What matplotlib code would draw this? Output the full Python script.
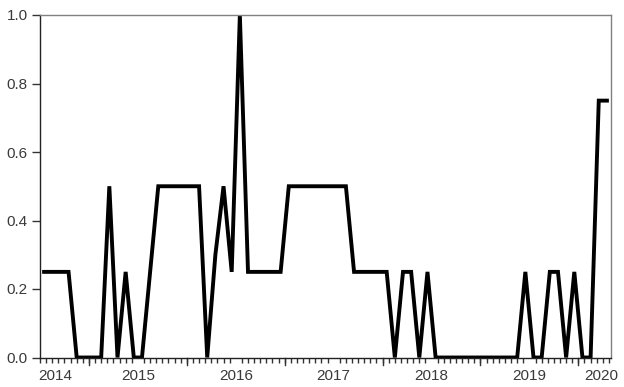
import numpy as np
import matplotlib
matplotlib.use('Agg')
import matplotlib.pyplot as plt
from matplotlib.ticker import FixedLocator

# monthly series, one value per observation
values = [0.25, 0.25, 0.25, 0.25, 0, 0, 0, 0,
          0.5, 0, 0.25, 0, 0, 0.25,
          0.5, 0.5, 0.5, 0.5, 0.5, 0.5,
          0, 0.3, 0.5, 0.25, 1.0,
          0.25, 0.25, 0.25, 0.25, 0.25,
          0.5, 0.5, 0.5, 0.5, 0.5, 0.5, 0.5, 0.5,
          0.25, 0.25, 0.25, 0.25, 0.25,
          0, 0.25, 0.25, 0, 0.25,
          0, 0, 0, 0, 0, 0, 0, 0, 0, 0, 0,
          0.25, 0, 0, 0.25, 0.25, 0, 0.25, 0, 0, 0.75, 0.75]
year_labels = ['2014', '2015', '2016', '2017', '2018', '2019', '2020']
year_label_pos = [1.4, 11.5, 23.5, 35.5, 47.5, 59.5, 68.3]
year_breaks = [5.5, 17.5, 29.5, 41.5, 53.5, 65.5]
y_ticks = [0.0, 0.2, 0.4, 0.6, 0.8, 1.0]

plt.rcParams['font.family'] = ['Liberation Sans', 'DejaVu Sans']
txt = '#3a3a3a'

fig = plt.figure(figsize=(6.24, 3.87), dpi=100)
ax = fig.add_axes([40/624, 1-357.5/387, 571/624, 342.5/387])

x = np.arange(len(values))
ax.plot(x, values, color='black', linewidth=2.8, solid_joinstyle='miter')

ax.set_xlim(-0.5, len(values) - 0.5)
ax.set_ylim(0, 1.0)

ax.set_yticks(y_ticks)
ax.set_yticklabels(['%.1f' % v for v in y_ticks])
ax.tick_params(axis='y', direction='out', length=6, width=1, pad=3,
               labelsize=11, labelcolor=txt, color='#333333')

# year labels without tick marks, long ticks at year breaks, short minor ticks
ax.set_xticks(year_label_pos)
ax.set_xticklabels(year_labels)
ax.tick_params(axis='x', which='major', length=0, pad=8.5, labelsize=11, labelcolor=txt)
ax.xaxis.set_minor_locator(FixedLocator(list(np.arange(-0.5, len(values), 0.75))))
ax.tick_params(axis='x', which='minor', direction='out', length=3.5, width=1, color='#333333')
for b in year_breaks:
    ax.plot([b, b], [0, -0.022], color='#333333', lw=1, clip_on=False)

for s in ['left', 'bottom']:
    ax.spines[s].set_color('#222222')
    ax.spines[s].set_linewidth(1)
for s in ['top', 'right']:
    ax.spines[s].set_color('#808080')
    ax.spines[s].set_linewidth(1)

fig.savefig('out.png', dpi=100)
